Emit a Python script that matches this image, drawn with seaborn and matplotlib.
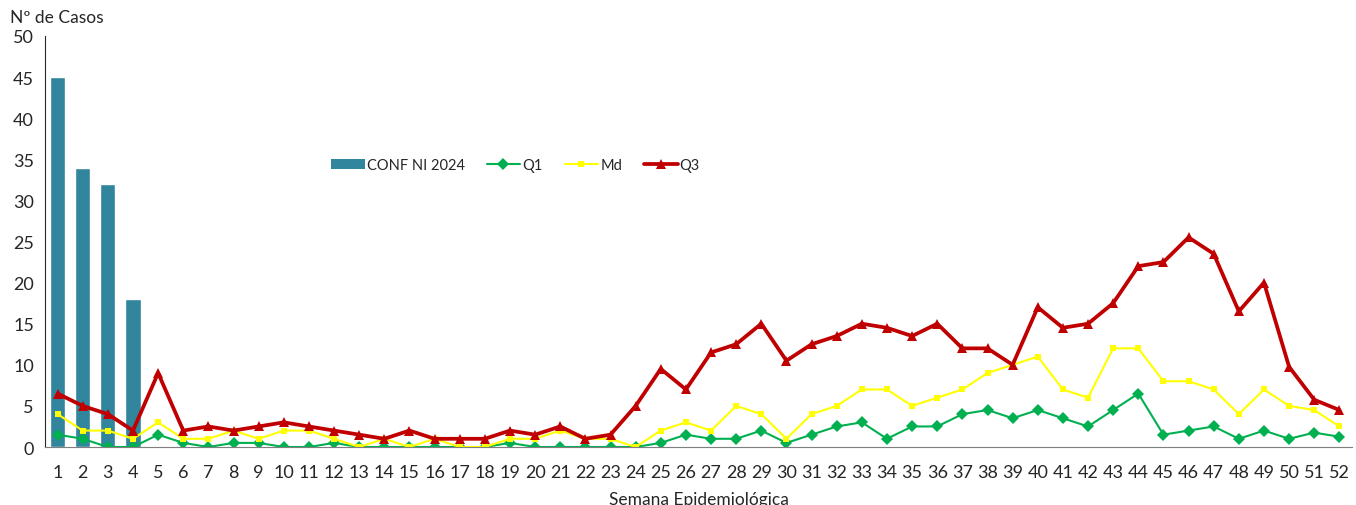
import numpy as np
import pandas as pd
import matplotlib
matplotlib.use("Agg")
import matplotlib.pyplot as plt
import seaborn as sns
from matplotlib.patches import Patch
from matplotlib.lines import Line2D
from matplotlib.ticker import FixedLocator

# ==============================================================
# DATA
# ==============================================================

weeks = [str(w) for w in range(1, 53)]

conf_weeks = ["1", "2", "3", "4"]
conf_2024 = [45, 34, 32, 18]

q1 = [1.5, 1, 0, 0, 1.5, 0.5, 0, 0.5, 0.5, 0, 0, 0.5, 0, 0, 0, 0, 0, 0, 0.5, 0,
      0, 0, 0, 0, 0.5, 1.5, 1, 1, 2, 0.5, 1.5, 2.5, 3, 1, 2.5, 2.5, 4, 4.5, 3.5, 4.5,
      3.5, 2.5, 4.5, 6.5, 1.5, 2, 2.5, 1, 2, 1, 1.75, 1.25]

md = [4, 2, 2, 1, 3, 1, 1, 2, 1, 2, 2, 1, 0, 1, 0, 1, 0, 0, 1, 1,
      2, 1, 1, 0, 2, 3, 2, 5, 4, 1, 4, 5, 7, 7, 5, 6, 7, 9, 10, 11,
      7, 6, 12, 12, 8, 8, 7, 4, 7, 5, 4.5, 2.5]

q3 = [6.5, 5, 4, 2, 9, 2, 2.5, 2, 2.5, 3, 2.5, 2, 1.5, 1, 2, 1, 1, 1, 2, 1.5,
      2.5, 1, 1.5, 5, 9.5, 7, 11.5, 12.5, 15, 10.5, 12.5, 13.5, 15, 14.5, 13.5, 15, 12, 12, 10, 17,
      14.5, 15, 17.5, 22, 22.5, 25.5, 23.5, 16.5, 20, 9.75, 5.75, 4.5]

# ==============================================================
# PLOT
# ==============================================================

sns.set_style("white")
plt.rcParams['font.family'] = ['Lato', 'DejaVu Sans']

bar_color = "#31859C"
q1_color = "#00B050"
md_color = "#FFFF00"
q3_color = "#C00000"

fig = plt.figure(figsize=(13.56, 5.06), dpi=100)
ax = fig.add_axes([0.0332, 0.1146, 0.9638, 0.8123])

sns.barplot(x=conf_weeks, y=conf_2024, order=weeks, color=bar_color,
            width=0.6, saturation=1, ax=ax)

pos = np.arange(len(weeks))
df = pd.DataFrame({"pos": pos, "Q1": q1, "Md": md, "Q3": q3})

sns.lineplot(data=df, x="pos", y="Q1", color=q1_color, linewidth=1.5,
             marker="D", markersize=6, markeredgewidth=0, ax=ax)
sns.lineplot(data=df, x="pos", y="Md", color=md_color, linewidth=1.5,
             marker="s", markersize=4.5, markeredgewidth=0, ax=ax)
sns.lineplot(data=df, x="pos", y="Q3", color=q3_color, linewidth=2.7,
             marker="^", markersize=7, markeredgewidth=0, ax=ax)

ax.set_xlim(-0.5, 51.5)
ax.set_ylim(0, 50)
ax.set_yticks(range(0, 51, 5))
ax.set_xticks(pos)
ax.set_xticklabels(weeks)
ax.xaxis.set_minor_locator(FixedLocator(np.arange(-0.5, 52, 1)))

ax.tick_params(axis="x", which="major", length=0, labelsize=13, pad=12)
ax.tick_params(axis="x", which="minor", length=6, width=1, color="#7f7f7f", direction="out")
ax.tick_params(axis="y", length=6, width=1, color="#404040", direction="out", labelsize=13, pad=2)

for s in ["top", "right"]:
    ax.spines[s].set_visible(False)
ax.spines["left"].set_color("#262626")
ax.spines["bottom"].set_color("#7f7f7f")

ax.set_xlabel("Semana Epidemiológica", fontsize=12.5, labelpad=8)
ax.set_ylabel("")
fig.text(10 / 1356, 1 - 18 / 506, "Nº de Casos", fontsize=12.5, va="center", ha="left")

handles = [
    Patch(facecolor=bar_color, edgecolor="none"),
    Line2D([], [], color=q1_color, lw=1.5, marker="D", markersize=6, markeredgewidth=0),
    Line2D([], [], color=md_color, lw=1.5, marker="s", markersize=4.5, markeredgewidth=0),
    Line2D([], [], color=q3_color, lw=2.7, marker="^", markersize=7, markeredgewidth=0),
]
ax.legend(handles, ["CONF NI 2024", "Q1", "Md", "Q3"], ncol=4, frameon=False,
          loc="center", bbox_to_anchor=(0.36, 0.685), fontsize=10.5,
          handlelength=2.3, handletextpad=0.15, columnspacing=1.5)

plt.savefig("out.png", dpi=100)
